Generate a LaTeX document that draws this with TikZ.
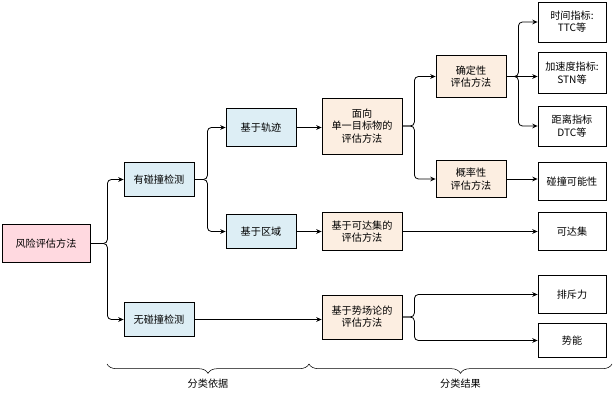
\documentclass[tikz,border=0pt]{standalone}
\usepackage{fontspec}
\setmainfont{Noto Sans CJK SC}
\usetikzlibrary{arrows.meta,decorations.pathreplacing}
\definecolor{pinkfill}{HTML}{FFD9E0}
\definecolor{bluefill}{HTML}{DDEEF5}
\definecolor{orangefill}{HTML}{FCEEE1}
\tikzset{
  box/.style={draw,semithick,align=center,inner sep=0pt,font=\fontsize{7.6}{9.2}\selectfont},
  link/.style={semithick,rounded corners=3pt,-{Stealth[length=4pt,width=3.5pt]}}
}
\begin{document}
\begin{tikzpicture}[x=0.75pt,y=-0.75pt]
\useasboundingbox (0,0) rectangle (616,409);
%level one
\node[box,fill=pinkfill,minimum width=66,minimum height=28] (risk) at (46,243.5) {风险评估方法};
%level two
\node[box,fill=bluefill,minimum width=52.5,minimum height=26] (coll) at (159,179.5) {有碰撞检测};
\node[box,fill=bluefill,minimum width=52.5,minimum height=26] (nocoll) at (159,319.5) {无碰撞检测};
%level three
\node[box,fill=bluefill,minimum width=52.5,minimum height=28] (traj) at (261,127.5) {基于轨迹};
\node[box,fill=bluefill,minimum width=52.5,minimum height=26] (area) at (261,231.5) {基于区域};
\node[box,fill=orangefill,minimum width=60,minimum height=42] (single) at (362,126) {面向\\单一目标物的\\评估方法};
\node[box,fill=orangefill,minimum width=60,minimum height=29] (reach) at (362,231.5) {基于可达集的\\评估方法};
\node[box,fill=orangefill,minimum width=60,minimum height=33] (field) at (362,317) {基于势场论的\\评估方法};
\node[box,fill=orangefill,minimum width=52.5,minimum height=32] (det) at (471,76.5) {确定性\\评估方法};
\node[box,fill=orangefill,minimum width=52.5,minimum height=28] (prob) at (471,179) {概率性\\评估方法};
%results
\node[box,minimum width=51,minimum height=30] (ttc) at (572,22) {时间指标:\\TTC等};
\node[box,minimum width=51,minimum height=31] (stn) at (572,73) {加速度指标:\\STN等};
\node[box,minimum width=51,minimum height=30] (dtc) at (572,126) {距离指标\\DTC等};
\node[box,minimum width=51,minimum height=28] (poss) at (572,181.5) {碰撞可能性};
\node[box,minimum width=51,minimum height=28] (rset) at (572,231.5) {可达集};
\node[box,minimum width=51,minimum height=28] (repel) at (572,294.5) {排斥力};
\node[box,minimum width=51,minimum height=26] (pot) at (572,340.5) {势能};
%connectors
\draw[link] (risk.east) -- ++(17,0) |- (coll.west);
\draw[link] (risk.east) -- ++(17,0) |- (nocoll.west);
\draw[link] (coll.east) -- ++(13,0) |- (traj.west);
\draw[link] (coll.east) -- ++(13,0) |- (area.west);
\draw[link] (traj.east) -- (single.west|-traj.east);
\draw[link] (area.east) -- (reach.west|-area.east);
\draw[link] (nocoll.east) -- (field.west|-nocoll.east);
\draw[link] (single.east) -- ++(12,0) |- (det.west);
\draw[link] (single.east) -- ++(12,0) |- (prob.west);
\draw[link] (det.east) -- ++(12,0) |- (ttc.west);
\draw[link] (det.east) -- (stn.west|-det.east);
\draw[link] (det.east) -- ++(12,0) |- (dtc.west);
\draw[link] (prob.east) -- (poss.west|-prob.east);
\draw[link] (reach.east) -- (rset.west|-reach.east);
\draw[link] (field.east) -- ++(12,0) |- (repel.west);
\draw[link] (field.east) -- ++(12,0) |- (pot.west);
%braces
\coordinate (b1) at (107,364);
\coordinate (b2) at (309,364);
\coordinate (b3) at (612,364);
\draw[thin,decorate,decoration={brace,mirror,amplitude=7pt}] (b1) -- (b2)
  node[midway,below=8pt,font=\fontsize{7.6}{9.2}\selectfont] (basis) {分类依据};
\draw[thin,decorate,decoration={brace,mirror,amplitude=7pt}] (b2) -- (b3)
  node[midway,below=8pt,font=\fontsize{7.6}{9.2}\selectfont] (result) {分类结果};
\end{tikzpicture}
\end{document}
